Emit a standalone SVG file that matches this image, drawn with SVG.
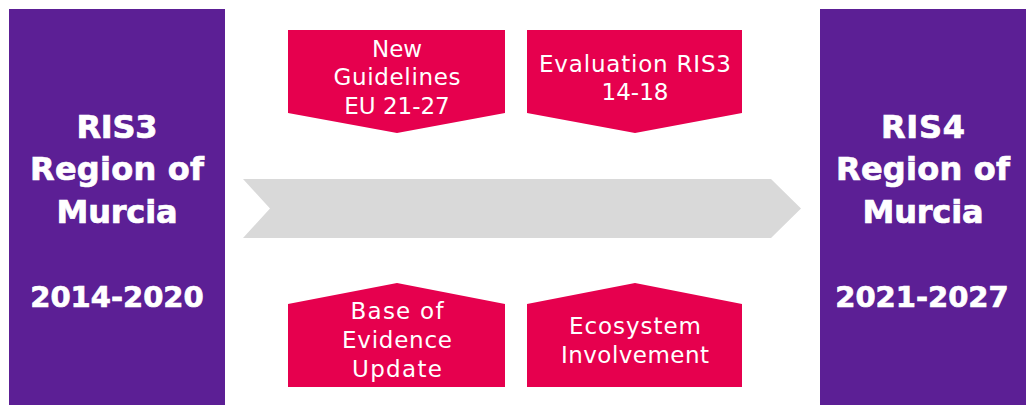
<svg xmlns="http://www.w3.org/2000/svg" width="1026" height="405" viewBox="0 0 1026 405">
<style>
.panel{fill:#5C1F95}
.box{fill:#E6004E}
.bold{font-family:"DejaVu Sans","Liberation Sans",sans-serif;font-weight:bold;font-size:32px;fill:#fff;stroke:#fff;stroke-width:0.7px;text-anchor:middle}
.year{font-size:29px}
.reg{font-family:"DejaVu Sans","Liberation Sans",sans-serif;font-size:23px;fill:#fff;text-anchor:middle}
</style>
<rect width="1026" height="405" fill="#fff"/>
<g id="connectors">
<polygon points="243,179 771,179 801,208.5 771,238 243,238 270,208.5" fill="#D9D9D9"/>
</g>
<g id="ris3">
<rect class="panel" x="9" y="9" width="216" height="396"/>
<text class="bold" x="117" y="138" textLength="81" lengthAdjust="spacing">RIS3</text>
<text class="bold" x="117" y="180" textLength="174" lengthAdjust="spacing">Region of</text>
<text class="bold" x="117" y="223" textLength="121" lengthAdjust="spacing">Murcia</text>
<text class="bold year" x="117" y="307">2014-2020</text>
</g>
<g id="ris4">
<rect class="panel" x="820" y="9" width="206" height="396"/>
<text class="bold" x="923" y="138" textLength="84" lengthAdjust="spacing">RIS4</text>
<text class="bold" x="923" y="180" textLength="174" lengthAdjust="spacing">Region of</text>
<text class="bold" x="923" y="223" textLength="121" lengthAdjust="spacing">Murcia</text>
<text class="bold year" x="922" y="307">2021-2027</text>
</g>
<g id="new-guidelines">
<polygon class="box" points="288,30 505,30 505,113 397,133 288,113"/>
<text class="reg" x="397" y="57" textLength="50" lengthAdjust="spacing">New</text>
<text class="reg" x="397" y="85" textLength="127" lengthAdjust="spacing">Guidelines</text>
<text class="reg" x="397" y="114">EU 21-27</text>
</g>
<g id="evaluation">
<polygon class="box" points="527,30 742,30 742,113 635,133 527,113"/>
<text class="reg" x="635" y="72" textLength="192" lengthAdjust="spacing">Evaluation RIS3</text>
<text class="reg" x="635" y="100">14-18</text>
</g>
<g id="base-of-evidence">
<polygon class="box" points="288,304 397,283 505,304 505,387 288,387"/>
<text class="reg" x="397" y="319" textLength="93" lengthAdjust="spacing">Base of</text>
<text class="reg" x="397" y="348" textLength="110" lengthAdjust="spacing">Evidence</text>
<text class="reg" x="397" y="377" textLength="90" lengthAdjust="spacing">Update</text>
</g>
<g id="ecosystem">
<polygon class="box" points="527,304 635,283 742,304 742,387 527,387"/>
<text class="reg" x="635" y="334" textLength="132" lengthAdjust="spacing">Ecosystem</text>
<text class="reg" x="635" y="363" textLength="148" lengthAdjust="spacing">Involvement</text>
</g>
</svg>
